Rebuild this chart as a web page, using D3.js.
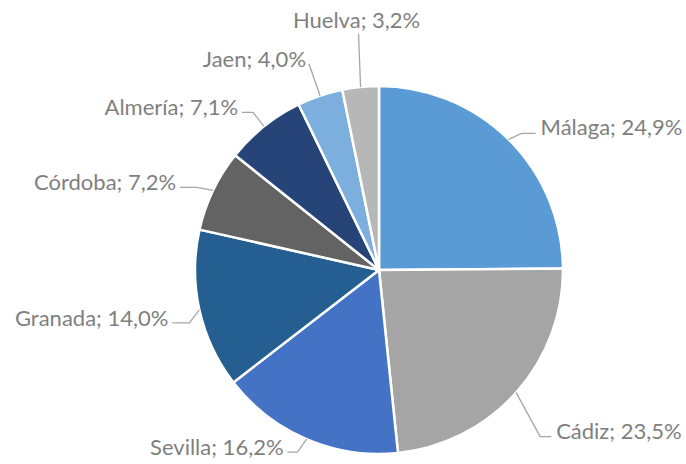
<!DOCTYPE html>
<html>
<head>
<meta charset="utf-8">
<script src="https://cdn.jsdelivr.net/npm/d3@7"></script>
<style>
  body { margin: 0; background: #fff; }
  .lbl { font-family: Lato, "Open Sans", sans-serif; font-size: 22px; fill: #7f7f7f; }
</style>
</head>
<body>
<div id="container"></div>
<script>
// data
var provincias = ["Málaga", "Cádiz", "Sevilla", "Granada", "Córdoba", "Almería", "Jaen", "Huelva"];
var porcentajes = [24.9, 23.5, 16.2, 14.0, 7.2, 7.1, 4.0, 3.2];
var colores = ["#5b9bd5", "#a5a5a5", "#4472c4", "#255e91", "#636363", "#264478", "#7cafdd", "#b7b7b7"];

// leader line layout: elbow offset from the slice edge, then horizontal run
var leaders = [
  { dx: 13, dy: -6, run: 14 },
  { dx: 24, dy: 44, run: 11 },
  { dx: -9, dy: 13, run: -10 },
  { dx: -10, dy: 13, run: -17 },
  { dx: -16, dy: -3, run: -17 },
  { dx: -11, dy: -14, run: -11 },
  { dx: -11, dy: -32, run: 0 },
  { dx: -2, dy: -53, run: 0 }
];

var W = 686, H = 464;
var cx = 379, cy = 270, R = 184;

var svg = d3.select("#container").append("svg")
    .attr("width", W)
    .attr("height", H);

var g = svg.append("g").attr("transform", "translate(" + cx + "," + cy + ")");

var data = provincias.map(function(p, i){ return { name: p, value: porcentajes[i], color: colores[i], lay: leaders[i] }; });

var pie = d3.pie().sort(null).value(function(d){ return d.value; });
var arc = d3.arc().innerRadius(0).outerRadius(R);

var arcs = pie(data);

g.selectAll(".slice")
    .data(arcs)
  .enter().append("path")
    .attr("class", "slice")
    .attr("d", arc)
    .attr("fill", function(d){ return d.data.color; })
    .attr("stroke", "#fff")
    .attr("stroke-width", 2.5)
    .attr("stroke-linejoin", "round");

function fmt(v){ return v.toFixed(1).replace(".", ","); }

arcs.forEach(function(d){
  var a = (d.startAngle + d.endAngle) / 2;
  var x0 = R * Math.sin(a), y0 = -R * Math.cos(a);
  var lay = d.data.lay;
  var x1 = x0 + lay.dx, y1 = y0 + lay.dy;
  var x2 = x1 + lay.run;

  g.append("polyline")
    .attr("points", [[x0, y0], [x1, y1], [x2, y1]].map(function(p){ return p.join(","); }).join(" "))
    .attr("fill", "none")
    .attr("stroke", "#a6a6a6")
    .attr("stroke-width", 1.3);

  var t = g.append("text")
    .attr("class", "lbl")
    .text(d.data.name + "; " + fmt(d.data.value) + "%");

  if (lay.run > 0) {
    t.attr("x", x2 + 5).attr("y", y1 + 2).attr("text-anchor", "start");
  } else if (lay.run < 0) {
    t.attr("x", x2 - 4).attr("y", y1 + 3).attr("text-anchor", "end");
  } else if (lay.dx < -5) {
    t.attr("x", x1 - 3).attr("y", y1 + 3).attr("text-anchor", "end");
  } else {
    t.attr("x", x1 - 2).attr("y", y1 - 6).attr("text-anchor", "middle");
  }
});
</script>
</body>
</html>
